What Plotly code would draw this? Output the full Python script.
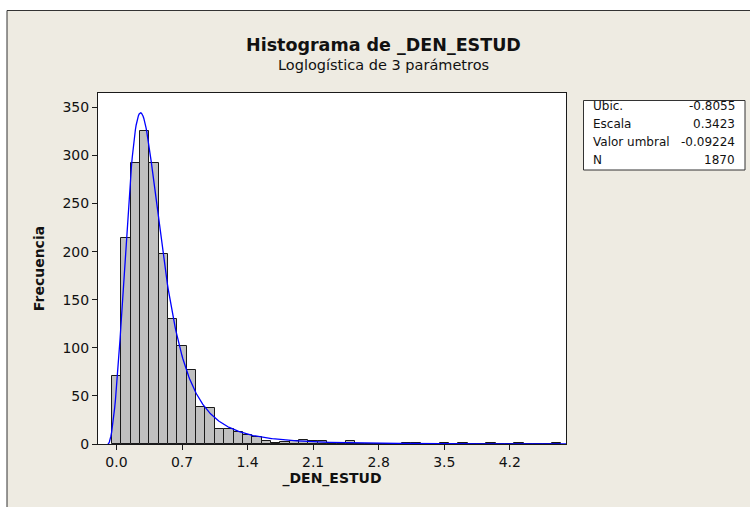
import numpy as np
import plotly.graph_objects as go

# Histogram bins (midpoints, width 0.1) and counts
BIN_MIDS = [round(0.1 * i, 1) for i in range(48)]
COUNTS = [71, 214, 292, 326, 292, 198, 130, 102, 77, 39,
          37, 16, 16, 13, 9, 7, 3, 1, 2, 3,
          4, 3, 3, 1, 1, 3, 0, 0, 0, 0,
          0, 1, 1, 0, 0, 1, 0, 1, 0, 0,
          1, 0, 0, 1, 0, 0, 0, 1]

# fitted 3-parameter loglogistic shown in the stats box
LOC = -0.8055
SCALE = 0.3423
THRESHOLD = -0.09224
N = 1870
BIN_WIDTH = 0.1

STAT_LABELS = ["Ubic.", "Escala", "Valor umbral", "N"]
STAT_VALUES = ["-0.8055", "0.3423", "-0.09224", "1870"]

X_TICKS = [0.0, 0.7, 1.4, 2.1, 2.8, 3.5, 4.2]
Y_TICKS = [0, 50, 100, 150, 200, 250, 300, 350]

FONT = "DejaVu Sans"
BG = "#EEEBE2"
DARK = "#1a1a1a"

# plot area in pixels (for placing the stats box and frame)
PL, PR, PT, PB = 98, 566, 93, 444


def px_x(px):
    return (px - PL) / (PR - PL)


def px_y(py):
    return (PB - py) / (PB - PT)


# fitted curve scaled to frequency
xs = np.linspace(THRESHOLD + 1e-4, 4.8, 600)
z = (np.log(xs - THRESHOLD) - LOC) / SCALE
pdf = np.exp(z) / (SCALE * (xs - THRESHOLD) * (1 + np.exp(z)) ** 2)
freq = N * BIN_WIDTH * pdf

fig = go.Figure()
fig.add_trace(go.Bar(
    x=BIN_MIDS, y=COUNTS, width=BIN_WIDTH,
    marker=dict(color="#C0C0C0", line=dict(color=DARK, width=1)),
    showlegend=False,
))
fig.add_trace(go.Scatter(
    x=np.concatenate([[THRESHOLD], xs]), y=np.concatenate([[0], freq]),
    mode="lines", line=dict(color="#0000FF", width=1.3),
    showlegend=False,
))

axis_common = dict(
    showline=True, linecolor=DARK, linewidth=1, mirror=True,
    ticks="outside", ticklen=5, tickcolor=DARK, showgrid=False,
    zeroline=False, tickfont=dict(family=FONT, size=14, color="#111"),
)

fig.update_xaxes(
    range=[-0.197, 4.8], tickvals=X_TICKS,
    ticktext=[f"{v:.1f}" for v in X_TICKS],
    title=dict(text="<b>_DEN_ESTUD</b>", standoff=4,
               font=dict(family=FONT, size=14, color="#111")),
    **axis_common,
)
fig.update_yaxes(
    range=[0, 365], tickvals=Y_TICKS,
    title=dict(text="<b>Frecuencia</b>", standoff=14,
               font=dict(family=FONT, size=14, color="#111")),
    **axis_common,
)

shapes = [
    # white strips outside the frame
    dict(type="rect", xref="paper", yref="paper", layer="above",
         x0=px_x(-5), x1=px_x(760), y0=px_y(10.5), y1=px_y(-5),
         fillcolor="white", line=dict(width=0)),
    dict(type="rect", xref="paper", yref="paper", layer="above",
         x0=px_x(-5), x1=px_x(7), y0=px_y(520), y1=px_y(-5),
         fillcolor="white", line=dict(width=0)),
    dict(type="rect", xref="paper", yref="paper", layer="above",
         x0=px_x(7), x1=px_x(760), y0=px_y(520), y1=px_y(10.5),
         fillcolor="rgba(0,0,0,0)", line=dict(color="#333", width=1)),
    # stats box
    dict(type="rect", xref="paper", yref="paper", layer="above",
         x0=px_x(583.5), x1=px_x(745), y0=px_y(170), y1=px_y(100.5),
         fillcolor="white", line=dict(color="#333", width=1)),
]

annotations = [
    dict(text="<b>Histograma de _DEN_ESTUD</b>", x=px_x(383), y=px_y(45),
         xref="paper", yref="paper", showarrow=False, xanchor="center",
         yanchor="middle", font=dict(family=FONT, size=17.5, color="#111")),
    dict(text="Loglogística de 3 parámetros", x=px_x(383), y=px_y(65.5),
         xref="paper", yref="paper", showarrow=False, xanchor="center",
         yanchor="middle", font=dict(family=FONT, size=14.5, color="#111")),
]
row_y = [106, 124, 142, 160]
for lab, val, ry in zip(STAT_LABELS, STAT_VALUES, row_y):
    annotations.append(dict(text=lab, x=px_x(591), y=px_y(ry), xref="paper",
                            yref="paper", showarrow=False, xanchor="left",
                            yanchor="middle",
                            font=dict(family=FONT, size=12, color="#111")))
    annotations.append(dict(text=val, x=px_x(737), y=px_y(ry), xref="paper",
                            yref="paper", showarrow=False, xanchor="right",
                            yanchor="middle",
                            font=dict(family=FONT, size=12, color="#111")))

fig.update_layout(
    width=750, height=507,
    margin=dict(l=PL, r=750 - PR, t=PT, b=507 - PB),
    paper_bgcolor=BG, plot_bgcolor="white",
    bargap=0, shapes=shapes, annotations=annotations,
    font=dict(family=FONT, color="#111"),
)

# drop the browser's default body margin so the figure sits at 0,0
fig.write_html("out.html", config={"displayModeBar": False},
               post_script="document.body.style.margin='0';")
